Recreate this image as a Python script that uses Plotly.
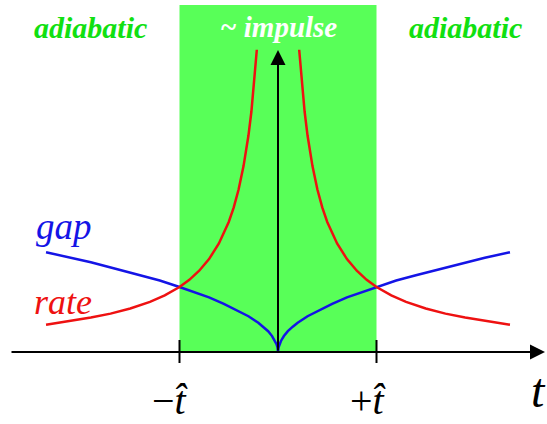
import plotly.graph_objects as go

# ---- data (t in units of t-hat; values in units of gap(t-hat)) ----
t_gap = [0, 0.005, 0.015, 0.03, 0.06, 0.1, 0.15, 0.2, 0.3, 0.4, 0.55, 0.7, 0.85,
         1.0, 1.2, 1.4, 1.65, 1.9, 2.1, 2.355]
gap = [0, 0.07, 0.12, 0.17, 0.245, 0.32, 0.39, 0.45, 0.55, 0.63, 0.74, 0.84, 0.92,
       1.0, 1.10, 1.18, 1.28, 1.38, 1.45, 1.535]

t_rate = [0.215, 0.24, 0.27, 0.3, 0.35, 0.4, 0.45, 0.5, 0.6, 0.7, 0.8, 0.9, 1.0,
          1.15, 1.3, 1.5, 1.7, 1.9, 2.1, 2.355]
rate = [4.65, 4.17, 3.70, 3.33, 2.86, 2.5, 2.22, 2.0, 1.67, 1.43, 1.25, 1.11, 1.0,
        0.87, 0.77, 0.67, 0.59, 0.53, 0.48, 0.42]

t_hat = [-1, 1]
t_hat_labels = ["−<i>t\u0302</i>", "+<i>t\u0302</i>"]
region_labels = ["adiabatic", "~ impulse", "adiabatic"]

# mirrored branches
gx = [-t for t in reversed(t_gap)] + t_gap[1:]
gy = list(reversed(gap)) + gap[1:]
rx_left = [-t for t in t_rate]
rx_right = t_rate

SERIF = "Liberation Serif"
BLUE = "#1414e6"
RED = "#ee1111"
GREEN_TXT = "#11e011"

fig = go.Figure()
fig.add_trace(go.Scatter(x=gx, y=gy, mode="lines",
                         line=dict(color=BLUE, width=2.5), hoverinfo="skip"))
fig.add_trace(go.Scatter(x=rx_left, y=rate, mode="lines",
                         line=dict(color=RED, width=2.5), hoverinfo="skip"))
fig.add_trace(go.Scatter(x=rx_right, y=rate, mode="lines",
                         line=dict(color=RED, width=2.5), hoverinfo="skip"))

# pixel -> data helpers for layout placement
def px_x(p):
    return (p - 278) / 98.5

def px_y(p):
    return (352 - p) / 65.0

shapes = [
    dict(type="rect", xref="x", yref="y", x0=t_hat[0], x1=t_hat[1], y0=0, y1=px_y(5),
         fillcolor="#58ff58", line=dict(width=0), layer="below"),
]
for th in t_hat:
    shapes.append(dict(type="line", xref="x", yref="y", x0=th, x1=th,
                       y0=px_y(363), y1=px_y(340), line=dict(color="black", width=2)))

annotations = [
    # horizontal axis arrow
    dict(x=px_x(545), y=0, ax=px_x(10), ay=0, xref="x", yref="y", axref="x", ayref="y",
         showarrow=True, arrowhead=2, arrowsize=1.5, arrowwidth=2, arrowcolor="black", text=""),
    # vertical axis arrow
    dict(x=0, y=px_y(50), ax=0, ay=0, xref="x", yref="y", axref="x", ayref="y",
         showarrow=True, arrowhead=2, arrowsize=1.5, arrowwidth=2, arrowcolor="black", text=""),
    dict(x=px_x(90), y=px_y(27), xref="x", yref="y", showarrow=False,
         text="<b><i>" + region_labels[0] + "</i></b>",
         font=dict(family=SERIF, size=30, color=GREEN_TXT)),
    dict(x=px_x(278), y=px_y(27), xref="x", yref="y", showarrow=False,
         text="<b><i>" + region_labels[1] + "</i></b>",
         font=dict(family=SERIF, size=29, color="white")),
    dict(x=px_x(465), y=px_y(27), xref="x", yref="y", showarrow=False,
         text="<b><i>" + region_labels[2] + "</i></b>",
         font=dict(family=SERIF, size=30, color=GREEN_TXT)),
    dict(x=px_x(64), y=px_y(226), xref="x", yref="y", showarrow=False,
         text="<i>gap</i>", font=dict(family=SERIF, size=37, color=BLUE)),
    dict(x=px_x(63), y=px_y(302), xref="x", yref="y", showarrow=False,
         text="<i>rate</i>", font=dict(family=SERIF, size=36, color=RED)),
    dict(x=px_x(169), y=px_y(400), xref="x", yref="y", showarrow=False,
         text=t_hat_labels[0], font=dict(family=SERIF, size=40, color="black")),
    dict(x=px_x(367), y=px_y(400), xref="x", yref="y", showarrow=False,
         text=t_hat_labels[1], font=dict(family=SERIF, size=40, color="black")),
    dict(x=px_x(538), y=px_y(390), xref="x", yref="y", showarrow=False,
         text="<i>t</i>", font=dict(family=SERIF, size=48, color="black")),
]

fig.update_layout(
    width=547, height=424,
    margin=dict(l=0, r=0, t=0, b=0),
    paper_bgcolor="white", plot_bgcolor="white",
    showlegend=False,
    xaxis=dict(range=[px_x(0), px_x(547)], visible=False, fixedrange=True),
    yaxis=dict(range=[px_y(424), px_y(0)], visible=False, fixedrange=True),
    shapes=shapes,
    annotations=annotations,
)

fig.write_html("out.html", config={"displayModeBar": False},
               post_script="document.body.style.margin='0';document.body.style.padding='0';")
